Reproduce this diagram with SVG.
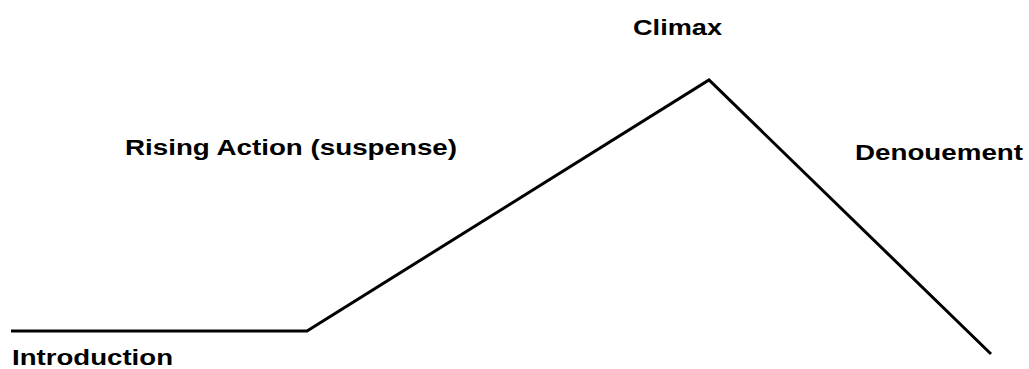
<svg xmlns="http://www.w3.org/2000/svg" width="1029" height="369" viewBox="0 0 1029 369">
<style>
.lbl{font-family:"Liberation Sans",Arial,sans-serif;font-weight:bold;font-size:22px;fill:#000}
.ln{fill:none;stroke:#000;stroke-width:3;stroke-linejoin:miter}
</style>
<rect width="1029" height="369" fill="#fff"/>
<g id="connectors">
<polyline class="ln" points="11,331 307,331 709,80 991,354"/>
</g>
<g id="climax"><text class="lbl" x="633" y="35" textLength="89" lengthAdjust="spacingAndGlyphs">Climax</text></g>
<g id="rising-action"><text class="lbl" x="125" y="155" textLength="332" lengthAdjust="spacingAndGlyphs">Rising Action (suspense)</text></g>
<g id="denouement"><text class="lbl" x="855" y="160" textLength="168" lengthAdjust="spacingAndGlyphs">Denouement</text></g>
<g id="introduction"><text class="lbl" x="12" y="365" textLength="161" lengthAdjust="spacingAndGlyphs">Introduction</text></g>
</svg>
